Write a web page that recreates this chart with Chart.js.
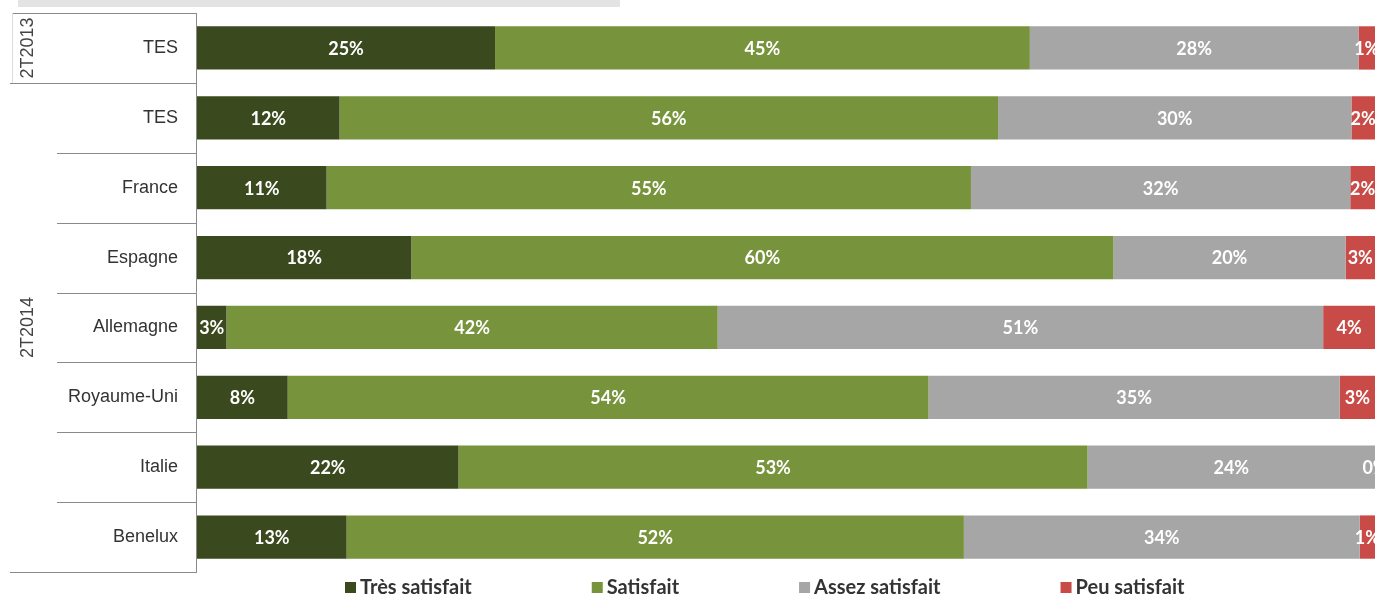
<!DOCTYPE html>
<html>
<head>
<meta charset="utf-8">
<script src="https://cdn.jsdelivr.net/npm/chart.js@4.4.0/dist/chart.umd.min.js"></script>
<style>
  body { margin: 0; background: #fff; }
  #wrap { position: relative; width: 1376px; height: 596px; }
  #topbar { position: absolute; left: 18px; top: 0; width: 602px; height: 7px; background: #e3e3e3; }
</style>
</head>
<body>
<div id="wrap">
  <div id="topbar"></div>
  <canvas id="myBar"></canvas>
</div>
<script>
// donnees (en %)
var categories = ['TES', 'TES', 'France', 'Espagne', 'Allemagne', 'Royaume-Uni', 'Italie', 'Benelux'];
var groupLabels = ['2T2013', '2T2014'];
var groupFirst = [0, 1];
var groupLast = [0, 7];

var tresSatisfait = [25.3, 12.1, 11.0, 18.2, 2.5, 7.7, 22.2, 12.7];
var satisfait = [45.4, 55.9, 54.7, 59.6, 41.7, 54.4, 53.4, 52.4];
var assezSatisfait = [27.9, 30.0, 32.2, 19.7, 51.4, 34.9, 24.4, 33.6];
var peuSatisfait = [1.4, 2.0, 2.1, 2.5, 4.4, 3.0, 0, 1.3];

var seriesNames = ['Très satisfait', 'Satisfait', 'Assez satisfait', 'Peu satisfait'];
var colors = ['#3b4a1e', '#77933c', '#a6a6a6', '#c84b47'];

// etiquettes blanches au centre des barres
var barLabels = {
    id: 'barLabels',
    afterDatasetsDraw: function (chart) {
        var ctx = chart.ctx;
        ctx.save();
        ctx.font = 'bold 18px Lato';
        ctx.fillStyle = '#fff';
        ctx.textAlign = 'center';
        ctx.textBaseline = 'middle';
        chart.data.datasets.forEach(function (ds, i) {
            chart.getDatasetMeta(i).data.forEach(function (bar, j) {
                var x = (bar.x + bar.base) / 2;
                ctx.fillText(Math.round(ds.data[j]) + '%', x, bar.y + 1);
            });
        });
        ctx.restore();
    }
};

// tableau a gauche + legende en bas
var tableau = {
    id: 'tableau',
    afterDraw: function (chart) {
        var ctx = chart.ctx;
        var y = chart.scales.y;
        var area = chart.chartArea;
        var band = y.getPixelForValue(1) - y.getPixelForValue(0);
        ctx.save();
        ctx.strokeStyle = '#8a8a8a';
        ctx.lineWidth = 1;
        ctx.beginPath();
        ctx.moveTo(area.left - 0.5, area.top);
        ctx.lineTo(area.left - 0.5, area.bottom);
        ctx.moveTo(12, area.top + 0.5);
        ctx.lineTo(area.left, area.top + 0.5);
        for (var i = 0; i < categories.length; i++) {
            var yy = Math.round(y.getPixelForValue(i) + band / 2) + 0.5;
            var isGroupEnd = groupLast.indexOf(i) >= 0;
            ctx.moveTo(isGroupEnd ? 10 : 57, yy);
            ctx.lineTo(area.left, yy);
        }
        ctx.stroke();
        ctx.strokeStyle = '#dcdcdc';
        ctx.beginPath();
        ctx.moveTo(12.5, area.top);
        ctx.lineTo(12.5, y.getPixelForValue(0) + band / 2);
        ctx.stroke();

        ctx.fillStyle = '#444';
        ctx.font = '18px "Liberation Sans"';
        ctx.textAlign = 'center';
        ctx.textBaseline = 'middle';
        groupLabels.forEach(function (g, k) {
            var cy = (y.getPixelForValue(groupFirst[k]) + y.getPixelForValue(groupLast[k])) / 2;
            ctx.save();
            ctx.translate(28, cy);
            ctx.rotate(-Math.PI / 2);
            ctx.fillText(g, 0, 0);
            ctx.restore();
        });

        // legende
        ctx.font = 'bold 20px Lato';
        ctx.textAlign = 'left';
        var lx = 345;
        var ly = 588;
        chart.data.datasets.forEach(function (ds) {
            ctx.fillStyle = ds.backgroundColor;
            ctx.fillRect(lx, ly - 6, 11, 11);
            ctx.fillStyle = '#333';
            ctx.fillText(ds.label, lx + 15, ly);
            lx += 15 + ctx.measureText(ds.label).width + 120;
        });
        ctx.restore();
    }
};

var ctb = document.getElementById('myBar');
var myBar = new Chart(ctb, {
    type: 'bar',
    data: {
        labels: categories,
        datasets: [
            { label: seriesNames[0], data: tresSatisfait, backgroundColor: colors[0] },
            { label: seriesNames[1], data: satisfait, backgroundColor: colors[1] },
            { label: seriesNames[2], data: assezSatisfait, backgroundColor: colors[2] },
            { label: seriesNames[3], data: peuSatisfait, backgroundColor: colors[3] }
        ]
    },
    options: {
        indexAxis: 'y',
        responsive: true,
        maintainAspectRatio: false,
        animation: false,
        datasets: {
            bar: { categoryPercentage: 1, barPercentage: 0.62, borderWidth: 0 }
        },
        layout: { padding: { top: 13, bottom: 24, right: 1, left: 0 } },
        plugins: {
            legend: { display: false },
            tooltip: { enabled: false }
        },
        scales: {
            x: {
                stacked: true,
                min: 0,
                max: 100,
                display: false
            },
            y: {
                stacked: true,
                grid: { display: false, drawTicks: false },
                border: { display: false },
                ticks: {
                    padding: 19,
                    color: '#333',
                    font: { family: 'Liberation Sans', size: 18 }
                },
                afterFit: function (scale) {
                    scale.width = 197;
                    scale.paddingTop = 0;
                    scale.paddingBottom = 0;
                }
            }
        }
    },
    plugins: [barLabels, tableau]
});
</script>
</body>
</html>
